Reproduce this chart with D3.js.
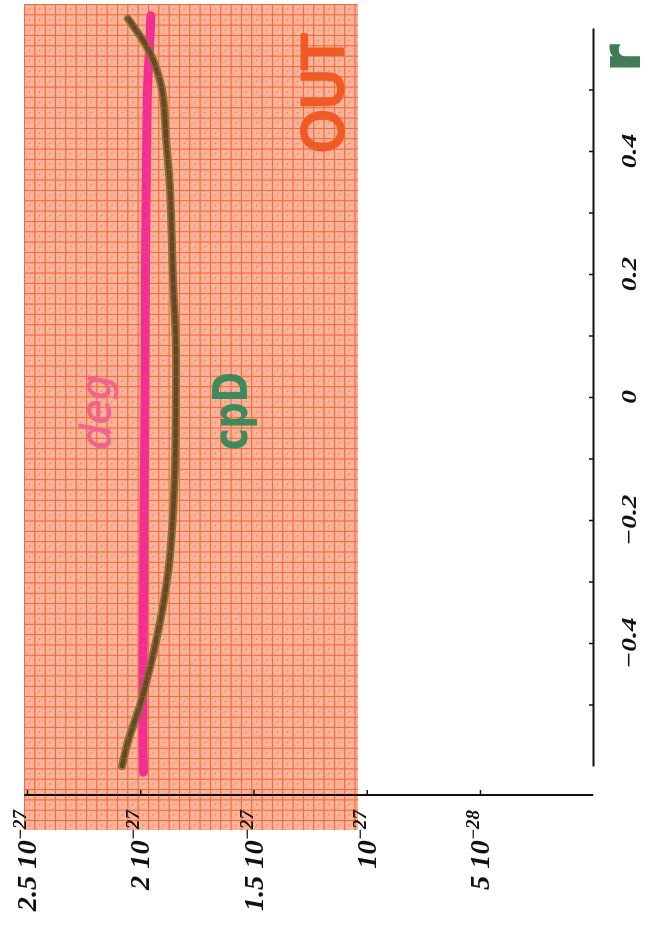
<!DOCTYPE html>
<html>
<head>
<meta charset="utf-8">
<script src="https://cdn.jsdelivr.net/npm/d3@7"></script>
<style>
  body { margin: 0; background: #fff; }
  svg { display: block; }
</style>
</head>
<body>
<div class="chart"></div>
<script>
// values in units of 10^-27, r on the other axis
const rCpd = [-0.60, -0.56, -0.50, -0.44, -0.39, -0.33, -0.27, -0.20, -0.12, 0.03, 0.09, 0.19, 0.34, 0.42, 0.50, 0.56, 0.615];
const cpd  = [2.08, 2.054, 2.00, 1.957, 1.926, 1.895, 1.872, 1.857, 1.847, 1.842, 1.843, 1.855, 1.869, 1.886, 1.904, 1.957, 2.054];

const rDeg = [-0.61, -0.55, -0.5, -0.4, -0.3, -0.2, -0.1, 0, 0.1, 0.2, 0.3, 0.4, 0.5, 0.56, 0.62];
const deg  = [1.986, 1.988, 1.988, 1.987, 1.985, 1.984, 1.981, 1.979, 1.978, 1.977, 1.975, 1.972, 1.968, 1.960, 1.953];

const rTicks = [-0.5, -0.4, -0.3, -0.2, -0.1, 0, 0.1, 0.2, 0.3, 0.4, 0.5];
const rLabels = [-0.4, -0.2, 0, 0.2, 0.4];

const valTicks = [2.5, 2, 1.5, 1, 0.5];
const valMant  = ["2.5", "2", "1.5", "", "5"];
const valExp   = ["\u221227", "\u221227", "\u221227", "\u221227", "\u221228"];

const width = 653;
const height = 926;
const serif = '"Liberation Serif", "Times New Roman", serif';

const svg = d3.select('.chart')
  .append('svg')
  .attr('width', width)
  .attr('height', height);

// value runs right-to-left, r runs bottom-to-top (plot turned on its side)
const x = d3.scaleLinear().domain([0.5, 2.5]).range([480, 27]);
const y = d3.scaleLinear().domain([-0.6, 0.6]).range([766, 28]);

const defs = svg.append('defs');
const pat = defs.append('pattern')
  .attr('id', 'grid')
  .attr('patternUnits', 'userSpaceOnUse')
  .attr('x', 24).attr('y', 4)
  .attr('width', 10.33).attr('height', 10.33);
pat.append('rect').attr('width', 10.33).attr('height', 10.33).attr('fill', '#f8b199');
pat.append('rect').attr('x', 2).attr('y', 2).attr('width', 3).attr('height', 3).attr('fill', '#f9b8a1');
pat.append('rect').attr('x', 6).attr('y', 6).attr('width', 3).attr('height', 3).attr('fill', '#f9b8a1');
pat.append('circle').attr('cx', 5.2).attr('cy', 5.2).attr('r', 0.7).attr('fill', '#ef6b35');
pat.append('path').attr('d', 'M0.5,0V10.33M0,0.5H10.33')
  .attr('stroke', '#f36a34').attr('stroke-width', 1);

const gridLines = defs.append('pattern')
  .attr('id', 'gridlines')
  .attr('patternUnits', 'userSpaceOnUse')
  .attr('x', 24).attr('y', 4)
  .attr('width', 10.33).attr('height', 10.33);
gridLines.append('path').attr('d', 'M0.5,0V10.33M0,0.5H10.33')
  .attr('stroke', '#f2672f').attr('stroke-width', 1);

// value axis (bottom, ticks pointing up)
const gx = svg.append('g')
  .attr('transform', 'translate(0,795)')
  .call(d3.axisTop(x).tickValues(valTicks).tickSize(5).tickSizeOuter(0).tickFormat(''));
gx.select('.domain').remove();
gx.selectAll('.tick line').attr('stroke', '#111').attr('stroke-width', 1.5);
svg.append('line')
  .attr('x1', 24).attr('x2', x(0))
  .attr('y1', 795).attr('y2', 795)
  .attr('stroke', '#111').attr('stroke-width', 2);

const vlab = svg.selectAll('text.vlab')
  .data(valTicks)
  .enter()
  .append('text')
  .attr('class', 'vlab')
  .attr('transform', d => `translate(${x(d) + 9},810) rotate(-90) scale(1.05,1)`)
  .attr('text-anchor', 'end')
  .attr('font-family', serif)
  .attr('font-style', 'italic')
  .attr('font-weight', 'bold')
  .attr('font-size', 27)
  .attr('fill', '#111');
vlab.append('tspan').text((d, i) => (valMant[i] ? valMant[i] + ' ' : '') + '10');
vlab.append('tspan').attr('dy', -10).attr('font-size', 18).text((d, i) => valExp[i]);

// r axis (right side)
const gy = svg.append('g')
  .attr('transform', 'translate(593,0)')
  .call(d3.axisLeft(y).tickValues(rTicks).tickSize(4).tickSizeOuter(0).tickFormat(''));
gy.select('.domain').attr('stroke', '#111').attr('stroke-width', 2);
gy.selectAll('.tick line').attr('stroke', '#111').attr('stroke-width', 1.5);

svg.selectAll('text.rlab')
  .data(rLabels)
  .enter()
  .append('text')
  .attr('class', 'rlab')
  .attr('transform', d => `translate(636,${y(d)}) rotate(-90) scale(1.25,1)`)
  .attr('text-anchor', 'middle')
  .attr('font-family', serif)
  .attr('font-style', 'italic')
  .attr('font-weight', 'bold')
  .attr('font-size', 22)
  .attr('fill', '#111')
  .text(d => d === 0 ? '0' : d3.format('.1f')(d).replace('-', '\u2212'));

// orange overlay sheet
svg.append('rect')
  .attr('x', 24).attr('y', 4)
  .attr('width', 334).attr('height', 826)
  .attr('fill', 'url(#grid)')
  .style('mix-blend-mode', 'multiply');

const line = d3.line()
  .x(d => x(d[1]))
  .y(d => y(d[0]))
  .curve(d3.curveCatmullRom);

svg.append('path')
  .datum(rDeg.map((r, i) => [r, deg[i]]))
  .attr('d', line)
  .attr('fill', 'none')
  .attr('stroke', '#f42c95')
  .attr('stroke-width', 9)
  .attr('stroke-linecap', 'round');

const cpdData = rCpd.map((r, i) => [r, cpd[i]]);
svg.append('path')
  .datum(cpdData)
  .attr('d', line)
  .attr('fill', 'none')
  .attr('stroke', '#7c7428')
  .attr('stroke-width', 8)
  .attr('stroke-linecap', 'round')
  .attr('opacity', 0.95);
svg.append('path')
  .datum(cpdData)
  .attr('d', line)
  .attr('fill', 'none')
  .attr('stroke', '#66452e')
  .attr('stroke-width', 4.5)
  .attr('stroke-linecap', 'round');

// grid showing through the pen strokes
svg.append('rect')
  .attr('x', 24).attr('y', 4)
  .attr('width', 334).attr('height', 826)
  .attr('fill', 'url(#gridlines)')
  .attr('opacity', 0.3);

// hand-written notes
svg.append('text')
  .attr('transform', 'translate(342,94) rotate(-90)')
  .attr('text-anchor', 'middle')
  .attr('font-family', 'DejaVu Sans')
  .attr('font-size', 55)
  .attr('textLength', 118)
  .attr('lengthAdjust', 'spacingAndGlyphs')
  .attr('fill', '#f05a24')
  .attr('stroke', '#f05a24')
  .attr('stroke-width', 3)
  .attr('stroke-linejoin', 'round')
  .text('OUT');

svg.append('text')
  .attr('transform', 'translate(110,412) rotate(-90)')
  .attr('text-anchor', 'middle')
  .attr('font-family', 'DejaVu Sans')
  .attr('font-style', 'italic')
  .attr('font-size', 40)
  .attr('textLength', 75)
  .attr('lengthAdjust', 'spacingAndGlyphs')
  .attr('fill', '#f0648c')
  .attr('stroke', '#f0648c')
  .attr('stroke-width', 1)
  .text('deg');

svg.append('text')
  .attr('transform', 'translate(247,411) rotate(-90)')
  .attr('text-anchor', 'middle')
  .attr('font-family', 'DejaVu Sans')
  .attr('font-weight', 'bold')
  .attr('font-size', 48)
  .attr('textLength', 78)
  .attr('lengthAdjust', 'spacingAndGlyphs')
  .attr('fill', '#3f8a5c')
  .text('cpD');

svg.append('text')
  .attr('transform', 'translate(639,58) rotate(-90)')
  .attr('text-anchor', 'middle')
  .attr('font-family', 'DejaVu Sans')
  .attr('font-weight', 'bold')
  .attr('font-size', 52)
  .attr('fill', '#3f7d57')
  .attr('stroke', '#3f7d57')
  .attr('stroke-width', 2)
  .text('r');
</script>
</body>
</html>
